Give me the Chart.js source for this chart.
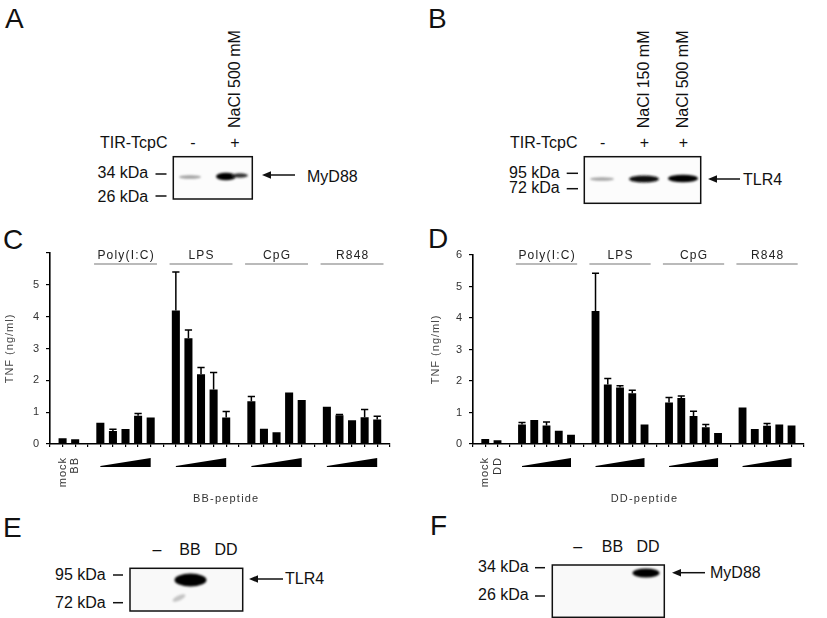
<!DOCTYPE html>
<html>
<head>
<meta charset="utf-8">
<script src="https://cdn.jsdelivr.net/npm/chart.js@4.4.1/dist/chart.umd.min.js"></script>
<style>
  body { margin: 0; background: #fff; }
  #fig { position: relative; width: 827px; height: 618px; overflow: hidden; font-family: 'Liberation Sans', Arial, sans-serif; }
  #blots { position: absolute; left: 0; top: 0; }
  .plot { position: absolute; top: 240px; height: 265px; }
</style>
</head>
<body>
<div id="fig">
<svg id="blots" width="827" height="618" font-family="'Liberation Sans', Arial, sans-serif" fill="#111">
  <defs>
    <filter id="soft" x="-50%" y="-100%" width="200%" height="300%"><feGaussianBlur stdDeviation="1.1"/></filter>
  </defs>
  <!-- panel letters -->
  <text x="5" y="28" font-size="28">A</text>
  <text x="428" y="28" font-size="28">B</text>
  <text x="3" y="249" font-size="28">C</text>
  <text x="428" y="248" font-size="28">D</text>
  <text x="3" y="537" font-size="28">E</text>
  <text x="430" y="535" font-size="28">F</text>

  <!-- A -->
  <g font-size="16">
    <text x="100" y="148">TIR-TcpC</text>
    <text x="193" y="148" text-anchor="middle">-</text>
    <text x="235" y="148" text-anchor="middle">+</text>
    <text transform="translate(240,128) rotate(-90)">NaCl 500 mM</text>
    <text x="97.5" y="178">34 kDa</text>
    <text x="97.5" y="201.5">26 kDa</text>
    <text x="307" y="181.5">MyD88</text>
  </g>
  <g stroke="#111" stroke-width="1.5">
    <line x1="155.5" y1="174" x2="166.5" y2="174"/>
    <line x1="155.5" y1="196" x2="166.5" y2="196"/>
    <rect x="173.3" y="156.7" width="79" height="42.3" fill="#fcfcfc"/>
    <line x1="266" y1="175" x2="295" y2="175"/>
  </g>
  <polygon points="262,175 271,171.2 271,178.8" fill="#111"/>
  <g filter="url(#soft)">
    <ellipse cx="190" cy="177" rx="11" ry="1.8" fill="#a0a0a0"/>
    <ellipse cx="226" cy="176.5" rx="10" ry="3.8" fill="#000"/>
    <ellipse cx="240" cy="175.5" rx="8" ry="2.2" fill="#333"/>
  </g>

  <!-- B -->
  <g font-size="16">
    <text x="510" y="148">TIR-TcpC</text>
    <text x="602.7" y="148" text-anchor="middle">-</text>
    <text x="644.3" y="148" text-anchor="middle">+</text>
    <text x="683.3" y="148" text-anchor="middle">+</text>
    <text transform="translate(649,128.3) rotate(-90)">NaCl 150 mM</text>
    <text transform="translate(688,128.3) rotate(-90)">NaCl 500 mM</text>
    <text x="509" y="178">95 kDa</text>
    <text x="509" y="193.3">72 kDa</text>
    <text x="743" y="184.5">TLR4</text>
  </g>
  <g stroke="#111" stroke-width="1.5">
    <line x1="566.7" y1="173.3" x2="578" y2="173.3"/>
    <line x1="566.7" y1="188.7" x2="578" y2="188.7"/>
    <rect x="584.3" y="156.7" width="116.4" height="46.6" fill="#fcfcfc"/>
    <line x1="712" y1="179" x2="740" y2="179"/>
  </g>
  <polygon points="708,179 717,175.2 717,182.8" fill="#111"/>
  <g filter="url(#soft)">
    <ellipse cx="602" cy="179" rx="12" ry="1.8" fill="#a5a5a5"/>
    <ellipse cx="644" cy="179" rx="15" ry="3.5" fill="#111"/>
    <ellipse cx="683" cy="178.5" rx="15" ry="3.8" fill="#000"/>
  </g>

  <!-- E -->
  <g font-size="16">
    <text x="157" y="555" text-anchor="middle">–</text>
    <text x="190" y="555" text-anchor="middle">BB</text>
    <text x="226" y="555" text-anchor="middle">DD</text>
    <text x="55" y="580">95 kDa</text>
    <text x="55" y="608">72 kDa</text>
    <text x="285" y="583.5">TLR4</text>
  </g>
  <g stroke="#111" stroke-width="1.5">
    <line x1="113" y1="575" x2="123" y2="575"/>
    <line x1="113" y1="602.7" x2="123" y2="602.7"/>
    <rect x="130" y="568.3" width="112.7" height="42.7" fill="#f9f9f9"/>
    <line x1="253" y1="579" x2="283" y2="579"/>
  </g>
  <polygon points="249,579 258,575.2 258,582.8" fill="#111"/>
  <g filter="url(#soft)">
    <ellipse cx="190.5" cy="580" rx="16" ry="6.5" fill="#000"/>
    <ellipse cx="179" cy="598" rx="7" ry="2.5" fill="#c4c4c4" transform="rotate(-25 179 598)"/>
  </g>

  <!-- F -->
  <g font-size="16">
    <text x="577.7" y="551.7" text-anchor="middle">–</text>
    <text x="612.5" y="551.7" text-anchor="middle">BB</text>
    <text x="648" y="551.7" text-anchor="middle">DD</text>
    <text x="478" y="571.7">34 kDa</text>
    <text x="478" y="600">26 kDa</text>
    <text x="710" y="578">MyD88</text>
  </g>
  <g stroke="#111" stroke-width="1.5">
    <line x1="535" y1="567.7" x2="545" y2="567.7"/>
    <line x1="535" y1="596" x2="545" y2="596"/>
    <rect x="552.3" y="565" width="112" height="52.3" fill="#f9f9f9"/>
    <line x1="676" y1="572.7" x2="705" y2="572.7"/>
  </g>
  <polygon points="672,572.7 681,568.9 681,576.5" fill="#111"/>
  <g filter="url(#soft)">
    <ellipse cx="646" cy="573" rx="13.5" ry="4.5" fill="#000"/>
  </g>
</svg>

<div class="plot" style="left:0; width:413px;"><canvas id="chartBB"></canvas></div>
<div class="plot" style="left:410px; width:417px;"><canvas id="chartDD"></canvas></div>
</div>

<script>
// slot layout: blank, mock, peptide, blank, then 4 stimuli x 5 doses separated by blanks
const stimuli = ['Poly(I:C)', 'LPS', 'CpG', 'R848'];
const groupStart = [4, 10, 16, 22];
const dosesPerGroup = 5;

const labelsBB = ['', 'mock', 'BB', ''].concat(Array(24).fill(''));
const labelsDD = ['', 'mock', 'DD', ''].concat(Array(24).fill(''));

// TNF (ng/ml), BB-peptide (panel C)
const tnfBB = [null, 0.18, 0.15, null,
  0.67, 0.41, 0.47, 0.89, 0.83, null,
  4.19, 3.32, 2.19, 1.71, 0.83, null,
  1.34, 0.48, 0.37, 1.62, 1.38, null,
  1.17, 0.90, 0.75, 0.84, 0.77, null];
const errBB = [null, 0, 0, null,
  0, 0.05, 0, 0.07, 0, null,
  1.21, 0.26, 0.21, 0.54, 0.19, null,
  0.15, 0, 0, 0, 0, null,
  0, 0.03, 0, 0.24, 0.10, null];

// TNF (ng/ml), DD-peptide (panel D)
const tnfDD = [null, 0.16, 0.12, null,
  0.62, 0.76, 0.59, 0.42, 0.29, null,
  4.22, 1.89, 1.79, 1.61, 0.62, null,
  1.32, 1.46, 0.89, 0.53, 0.35, null,
  1.16, 0.48, 0.58, 0.62, 0.59, null];
const errDD = [null, 0, 0, null,
  0.06, 0, 0.11, 0, 0, null,
  1.20, 0.19, 0.06, 0.10, 0, null,
  0.16, 0.06, 0.15, 0.09, 0, null,
  0, 0, 0.07, 0, 0, null];

const yTicks = [0, 1, 2, 3, 4, 5, 6];
const FONT = "'Liberation Sans', Arial, sans-serif";

const decorations = {
  id: 'decorations',
  beforeUpdate(chart) { chart.ctx.letterSpacing = '1px'; },
  beforeDraw(chart) { chart.ctx.letterSpacing = '1px'; },
  afterDatasetsDraw(chart) {
    const ctx = chart.ctx;
    const ds = chart.data.datasets[0];
    const meta = chart.getDatasetMeta(0);
    const y = chart.scales.y;
    ctx.save();
    ctx.strokeStyle = '#000';
    ctx.lineWidth = 1.5;
    meta.data.forEach((bar, i) => {
      const e = ds.errors[i];
      if (!e || ds.data[i] == null) return;
      const top = y.getPixelForValue(ds.data[i] + e);
      const half = bar.width * 0.45;
      ctx.beginPath();
      ctx.moveTo(bar.x, bar.y);
      ctx.lineTo(bar.x, top);
      ctx.moveTo(bar.x - half, top);
      ctx.lineTo(bar.x + half, top);
      ctx.stroke();
    });
    ctx.restore();
  },
  afterDraw(chart) {
    const ctx = chart.ctx;
    const x = chart.scales.x;
    const step = x.getPixelForValue(1) - x.getPixelForValue(0);
    ctx.save();
    ctx.letterSpacing = '1.2px';
    ctx.font = '12px ' + FONT;
    ctx.textAlign = 'center';
    ctx.textBaseline = 'middle';
    stimuli.forEach((name, g) => {
      const a = x.getPixelForValue(groupStart[g]);
      const b = x.getPixelForValue(groupStart[g] + dosesPerGroup - 1);
      // stimulus name with rule underneath
      ctx.fillStyle = '#222';
      ctx.fillText(name, (a + b) / 2 + 0.6, 16);
      ctx.strokeStyle = '#777';
      ctx.lineWidth = 1.2;
      ctx.beginPath();
      ctx.moveTo(a - step * 0.5, 24);
      ctx.lineTo(b + step * 0.5, 24);
      ctx.stroke();
      // dose wedge
      const base = x.top + 23;
      ctx.fillStyle = '#000';
      ctx.beginPath();
      ctx.moveTo(a, base);
      ctx.lineTo(b, base);
      ctx.lineTo(b, base - 9);
      ctx.lineTo(a, base - 1);
      ctx.closePath();
      ctx.fill();
    });
    ctx.font = '11px ' + FONT;
    ctx.fillStyle = '#333';
    ctx.fillText(chart.data.datasets[0].peptide, x.getPixelForValue(14), x.top + 55);
    ctx.restore();
  }
};

function makeChart(id, labels, values, errors, peptide, showTop, pad, yWidth) {
  return new Chart(document.getElementById(id), {
    type: 'bar',
    data: {
      labels: labels,
      datasets: [{
        data: values,
        errors: errors,
        peptide: peptide,
        backgroundColor: '#000',
        barPercentage: 0.8,
        categoryPercentage: 0.8
      }]
    },
    options: {
      responsive: true,
      maintainAspectRatio: false,
      animation: false,
      layout: { padding: pad },
      plugins: { legend: { display: false }, tooltip: { enabled: false } },
      scales: {
        x: {
          offset: false,
          grid: { offset: false, drawOnChartArea: false, color: '#000', lineWidth: 1.2, tickLength: 3 },
          border: { color: '#000', width: 1.6 },
          ticks: { autoSkip: false, minRotation: 90, maxRotation: 90, padding: 10, color: '#333', font: { family: FONT, size: 11 } },
          afterFit: s => { s.height = 61; }
        },
        y: {
          min: 0,
          max: 6,
          afterBuildTicks: s => { s.ticks = yTicks.map(v => ({ value: v })); },
          grid: { drawOnChartArea: false, color: '#000', lineWidth: 1.2, tickLength: 4 },
          border: { color: '#000', width: 1.6 },
          ticks: {
            padding: 6, color: '#333', font: { family: FONT, size: 11 },
            callback: v => (v === 6 && !showTop) ? '' : v
          },
          title: { display: true, text: 'TNF (ng/ml)', color: '#444', font: { family: FONT, size: 11 }, padding: 3 },
          afterFit: s => { s.width = yWidth; }
        }
      }
    },
    plugins: [decorations]
  });
}

makeChart('chartBB', labelsBB, tnfBB, errBB, 'BB-peptide', false, { left: 0, top: 13, right: 15, bottom: 0 }, 50);
makeChart('chartDD', labelsDD, tnfDD, errDD, 'DD-peptide', true, { left: 16, top: 15, right: 4, bottom: 0 }, 47);
</script>
</body>
</html>
